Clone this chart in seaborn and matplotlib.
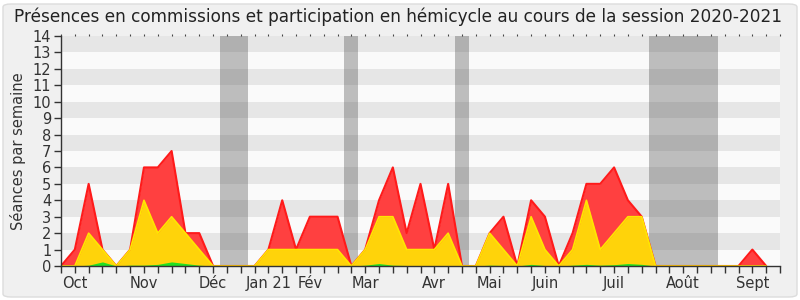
import matplotlib
matplotlib.use("Agg")
import matplotlib.pyplot as plt
from matplotlib.patches import FancyBboxPatch
import seaborn as sns
import pandas as pd

# ---- data (weekly values, session 2020-2021) ----
weeks = list(range(52))
commission = [0, 1, 5, 1, 0, 1, 6, 6, 7, 2, 2, 0, 0, 0, 0, 1, 4, 1, 3, 3, 3, 0,
              1, 4, 6, 2, 5, 1, 5, 0, 0, 2, 3, 0, 4, 3, 0, 2, 5, 5, 6, 4, 3, 0,
              0, 0, 0, 0, 0, 0, 1, 0]
hemicycle = [0, 0, 2, 1, 0, 1, 4, 2, 3, 2, 1, 0, 0, 0, 0, 1, 1, 1, 1, 1, 1, 0,
             1, 3, 3, 1, 1, 1, 2, 0, 0, 2, 1, 0, 3, 1, 0, 1, 4, 1, 2, 3, 3, 0,
             0, 0, 0, 0, 0, 0, 0, 0]
interventions = [0, 0, 0.05, 0.25, 0, 0.05, 0.05, 0.1, 0.25, 0.15, 0.05, 0, 0, 0,
                 0, 0.03, 0.03, 0.03, 0.03, 0.03, 0.03, 0, 0.05, 0.15, 0.05, 0.03,
                 0.03, 0.03, 0.03, 0, 0, 0.05, 0.03, 0, 0.1, 0.03, 0, 0.05, 0.1,
                 0.05, 0.08, 0.15, 0.1, 0, 0, 0, 0, 0, 0, 0, 0, 0]
vacances = [(11.5, 13.5), (20.5, 21.5), (28.5, 29.5), (42.5, 47.5)]
month_pos = [1, 6, 11, 15, 18, 22, 27, 31, 35, 40, 45, 50]
month_labels = ["Oct", "Nov", "Déc", "Jan 21", "Fév", "Mar", "Avr", "Mai",
                "Juin", "Juil", "Août", "Sept"]
title = "Présences en commissions et participation en hémicycle au cours de la session 2020-2021"
ylabel = "Séances par semaine"

df = pd.DataFrame({"week": weeks, "commission": commission,
                   "hemicycle": hemicycle, "interventions": interventions})

sns.set_theme(style="white")
plt.rcParams["font.family"] = ["DejaVu Sans"]

fig = plt.figure(figsize=(8, 3), dpi=100, facecolor="white")
fig.patches.append(FancyBboxPatch((3 / 800, 3 / 300), 794 / 800, 293 / 300,
                                  boxstyle="round,pad=0,rounding_size=0.01",
                                  transform=fig.transFigure, facecolor="#f0f0f0",
                                  edgecolor="#dcdcdc", linewidth=1, zorder=-10))

ax = fig.add_axes([61 / 800, 34 / 300, 719 / 800, 230 / 300])
ax.set_facecolor("#fafafa")
for i in range(14):
    ax.axhspan(i, i + 1, color="#e6e6e6" if i % 2 == 1 else "#fafafa", lw=0, zorder=0)
for a, b in vacances:
    ax.axvspan(a, b, color="#333333", alpha=0.3, lw=0, zorder=1)

ax.fill_between(df["week"], df["commission"], color="#ff4040", lw=0, zorder=2)
sns.lineplot(data=df, x="week", y="commission", color="#ff1a1a", lw=1.5, ax=ax, zorder=3)
ax.fill_between(df["week"], df["hemicycle"], color="#ffd30a", lw=0, zorder=4)
sns.lineplot(data=df, x="week", y="hemicycle", color="#ffe600", lw=1.2, ax=ax, zorder=5)
ax.fill_between(df["week"], df["interventions"], color="#22e022", lw=0, zorder=6)

ax.set_xlim(0, 52)
ax.set_ylim(0, 14)
ax.set_yticks(range(15))
ax.set_xticks(range(53))
labels = [""] * 53
for p, l in zip(month_pos, month_labels):
    labels[p] = l
ax.set_xticklabels(labels)
ax.tick_params(axis="both", direction="out", length=5, width=1, color="#333333",
               labelsize=10.5, labelcolor="#333333", bottom=True, left=True, pad=2)
ax.set_xlabel("")
ax.set_ylabel(ylabel, fontsize=10.5, color="#333333", labelpad=5)
for s in ["top", "right"]:
    ax.spines[s].set_visible(False)
for s in ["left", "bottom"]:
    ax.spines[s].set_color("#333333")
    ax.spines[s].set_linewidth(1)
    ax.spines[s].set_zorder(10)

top = ax.secondary_xaxis("top")
top.set_xticks(range(53))
top.set_xticklabels([])
top.tick_params(length=1.5, width=0.8, color="#444444", direction="out")
top.spines["top"].set_visible(False)

fig.text(0.5 * (13 + 783) / 800, 1 - 17 / 300, title, ha="center", va="center",
         fontsize=12.2, color="#222222")

fig.savefig("out.png", dpi=100, facecolor=fig.get_facecolor())
